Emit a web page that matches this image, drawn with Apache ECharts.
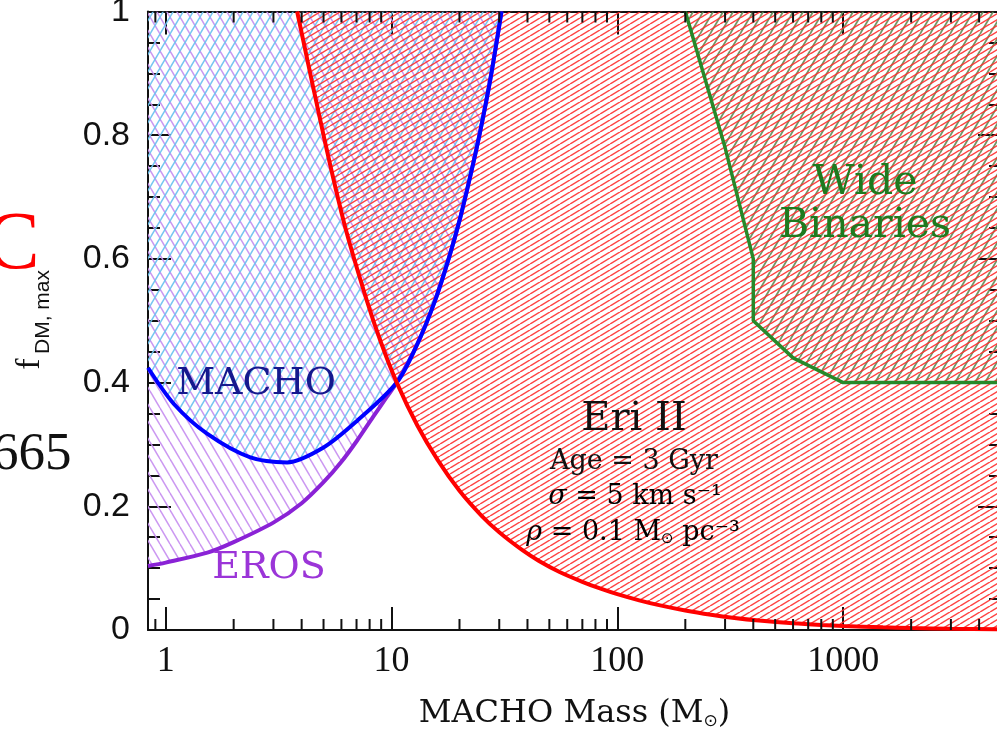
<!DOCTYPE html>
<html>
<head>
<meta charset="utf-8">
<script src="https://cdn.jsdelivr.net/npm/echarts@6/dist/echarts.min.js"></script>
<style>
  html, body { margin: 0; padding: 0; background: #ffffff; }
  #chart { width: 997px; height: 732px; }
</style>
</head>
<body>
<div id="chart"></div>
<script>
// Eri II upper limit on the MACHO dark-matter fraction
const eriMass = [3.82, 5, 6.2, 7.77, 9, 10.55, 13, 16, 20, 25, 30, 38, 45, 55.5, 70, 85, 100, 125, 153, 200, 260, 330, 424, 600, 800, 1000, 1500, 2000, 3000, 5000];
const eriFrac = [1.0, 0.80, 0.655, 0.533, 0.464, 0.40, 0.331, 0.275, 0.225, 0.185, 0.158, 0.129, 0.1115, 0.0937, 0.0779, 0.0665, 0.058, 0.048, 0.0402, 0.0315, 0.0246, 0.0195, 0.0153, 0.0108, 0.0081, 0.0065, 0.0043, 0.0031, 0.0019, 0.0010];

// MACHO survey limit
const machoMass = [0.835, 1.09, 1.53, 2.37, 3.45, 5.0, 7.03, 10.55, 13.0, 15.6, 18.0, 20.1, 22.3, 24.6, 27.5, 30.7];
const machoFrac = [0.424, 0.365, 0.317, 0.279, 0.271, 0.295, 0.338, 0.40, 0.462, 0.533, 0.603, 0.665, 0.733, 0.803, 0.894, 1.0];

// EROS survey limit (joins the MACHO curve above ~10 solar masses)
const erosMass = [0.835, 1.0, 1.53, 2.0, 3.01, 4.0, 5.0, 6.0, 7.03, 8.3, 9.5, 10.55, 13.0, 15.6, 18.0, 20.1, 22.3, 24.6, 27.5, 30.7];
const erosFrac = [0.1036, 0.109, 0.125, 0.142, 0.174, 0.205, 0.239, 0.272, 0.306, 0.345, 0.376, 0.40, 0.462, 0.533, 0.603, 0.665, 0.733, 0.803, 0.894, 1.0];

// Wide binaries limit
const wideMass = [200, 300, 400, 400, 600, 1000, 5000];
const wideFrac = [1.0, 0.78, 0.6, 0.5, 0.44, 0.4, 0.4];

// Axis ticks
const xTickValues = [1, 10, 100, 1000];
const xTickLabels = ['1', '10', '100', '1000'];
const xMinorValues = [0.9, 2, 3, 4, 5, 6, 7, 8, 9, 20, 30, 40, 50, 60, 70, 80, 90,
                      200, 300, 400, 500, 600, 700, 800, 900, 2000, 3000, 4000];

function pairs(xs, ys) { return xs.map((x, i) => [x, ys[i]]); }

// Diagonal hatch tile: dir > 0 draws '/', dir < 0 draws '\'
function hatch(w, h, color, lw, dir) {
  const c = document.createElement('canvas');
  c.width = w; c.height = h;
  const ctx = c.getContext('2d');
  ctx.strokeStyle = color;
  ctx.lineWidth = lw;
  for (let k = -1; k <= 1; k++) {
    ctx.beginPath();
    if (dir > 0) { ctx.moveTo(k * w, h); ctx.lineTo(k * w + w, 0); }
    else { ctx.moveTo(k * w, 0); ctx.lineTo(k * w + w, h); }
    ctx.stroke();
  }
  return c;
}

const redHatch = hatch(10, 6, 'rgba(255,45,45,0.9)', 1.5, 1);
const blueHatch = hatch(10, 17, 'rgba(110,195,240,0.95)', 1.5, 1);
const purpleHatch = hatch(10, 17, 'rgba(200,145,240,0.95)', 1.5, -1);
const greenHatch = hatch(10, 17, 'rgba(95,140,88,0.9)', 1.8, 1);

const chart = echarts.init(document.getElementById('chart'), null, { renderer: 'canvas' });

const axisColor = '#111111';
const tickStyle = { color: axisColor, width: 2 };

function xLabel(v) {
  for (let i = 0; i < xTickValues.length; i++) {
    if (Math.abs(v - xTickValues[i]) / xTickValues[i] < 1e-6) return xTickLabels[i];
  }
  return '';
}

function xAxisBase(pos) {
  return {
    type: 'log', logBase: 10, min: 0.835, max: 5000, position: pos,
    axisLine: { show: true, onZero: false, lineStyle: { color: axisColor, width: 2 } },
    axisTick: { show: true, inside: true, length: 23, lineStyle: tickStyle },
    splitLine: { show: false },
    minorTick: { show: false },
    minorSplitLine: { show: false }
  };
}

function yAxisBase(pos) {
  return {
    type: 'value', min: 0, max: 1, interval: 0.2, position: pos,
    axisLine: { show: true, onZero: false, lineStyle: { color: axisColor, width: 2 } },
    axisTick: { show: true, inside: true, length: 23, lineStyle: tickStyle },
    minorTick: { show: true, splitNumber: 4, length: 12, lineStyle: tickStyle },
    splitLine: { show: false }
  };
}

const xBottom = Object.assign(xAxisBase('bottom'), {
  axisLabel: {
    show: true, margin: 14, color: axisColor,
    fontFamily: 'Liberation Serif', fontSize: 36,
    formatter: xLabel, showMinLabel: false, showMaxLabel: false
  },
  name: '{a|MACHO Mass (M}{b|\u2299}{a|)}',
  nameLocation: 'middle',
  nameGap: 68,
  nameTextStyle: {
    color: axisColor,
    rich: {
      a: { fontFamily: 'DejaVu Serif', fontSize: 32, verticalAlign: 'bottom', color: axisColor },
      b: { fontFamily: 'DejaVu Sans', fontSize: 17, verticalAlign: 'bottom', color: axisColor }
    }
  }
});
const xTop = Object.assign(xAxisBase('top'), { axisLabel: { show: false } });

const yLeft = Object.assign(yAxisBase('left'), {
  axisLabel: { show: true, margin: 18, color: axisColor, fontFamily: 'Liberation Sans', fontSize: 34 }
});
const yRight = Object.assign(yAxisBase('right'), { axisLabel: { show: false } });

// hatched region lying above a limit curve (filled up to f = 1)
function fillSeries(name, xs, ys, pattern, smooth, z) {
  return {
    name: name + ' region', type: 'line', xAxisIndex: 0, yAxisIndex: 0,
    data: pairs(xs, ys), showSymbol: false, symbol: 'none', smooth: smooth,
    silent: true, z: z,
    lineStyle: { width: 0, opacity: 0 },
    areaStyle: { origin: 'end', color: { image: pattern, repeat: 'repeat' }, opacity: 1 }
  };
}
// the limit curve itself
function curveSeries(name, xs, ys, color, width, smooth, z) {
  return {
    name: name, type: 'line', xAxisIndex: 0, yAxisIndex: 0,
    data: pairs(xs, ys), showSymbol: false, symbol: 'none', smooth: smooth,
    silent: true, z: z,
    lineStyle: { color: color, width: width }
  };
}

const textFont = 'DejaVu Serif';

chart.setOption({
  animation: false,
  backgroundColor: '#ffffff',
  grid: { left: 148, right: -4, top: 11.5, bottom: 102, containLabel: false, outerBoundsMode: 'none' },
  xAxis: [xBottom, xTop],
  yAxis: [yLeft, yRight],
  series: [
    fillSeries('EROS', erosMass, erosFrac, purpleHatch, 0.3, 1),
    fillSeries('MACHO', machoMass, machoFrac, blueHatch, 0.3, 1),
    fillSeries('Wide Binaries', wideMass, wideFrac, greenHatch, false, 1),
    fillSeries('Eri II', eriMass, eriFrac, redHatch, 0.3, 1),
    curveSeries('EROS', erosMass, erosFrac, '#8a22d6', 4, 0.3, 3),
    curveSeries('MACHO', machoMass, machoFrac, '#0000ff', 4, 0.3, 4),
    curveSeries('Wide Binaries', wideMass, wideFrac, '#27892a', 3.5, false, 4),
    curveSeries('Eri II', eriMass, eriFrac, '#ff0000', 4, 0.3, 5),
    {
      // minor log ticks on the bottom and top frame edges
      type: 'custom', xAxisIndex: 0, yAxisIndex: 0, silent: true, z: 10, clip: false,
      data: xMinorValues.map(v => [v, 0]),
      encode: { x: 0, y: 1 },
      renderItem: function (params, api) {
        const b = api.coord([api.value(0), 0]);
        const t = api.coord([api.value(0), 1]);
        return {
          type: 'group',
          children: [
            { type: 'line', shape: { x1: b[0], y1: b[1], x2: b[0], y2: b[1] - 11 }, style: { stroke: axisColor, lineWidth: 2 } },
            { type: 'line', shape: { x1: t[0], y1: t[1], x2: t[0], y2: t[1] + 11 }, style: { stroke: axisColor, lineWidth: 2 } }
          ]
        };
      }
    }
  ],
  graphic: [
    // y-axis title, reading bottom to top
    { type: 'text', x: 30, y: 364, rotation: Math.PI / 2, z: 20,
      style: { text: 'f', font: '34px "Liberation Serif"', fill: axisColor, align: 'center', verticalAlign: 'middle' } },
    { type: 'text', x: 43, y: 312, rotation: Math.PI / 2, z: 20,
      style: { text: 'DM, max', font: '21px "Liberation Sans"', fill: axisColor, align: 'center', verticalAlign: 'middle' } },
    // survey labels
    { type: 'text', x: 256, y: 384, z: 20,
      style: { text: 'MACHO', font: '38px "' + textFont + '"', fill: '#15198e', align: 'center', verticalAlign: 'middle' } },
    { type: 'text', x: 269, y: 568, z: 20,
      style: { text: 'EROS', font: '38px "' + textFont + '"', fill: '#9b35d8', align: 'center', verticalAlign: 'middle' } },
    { type: 'text', x: 865, y: 183, z: 20,
      style: { text: 'Wide', font: '41px "' + textFont + '"', fill: '#1f7a1f', align: 'center', verticalAlign: 'middle' } },
    { type: 'text', x: 865, y: 226, z: 20,
      style: { text: 'Binaries', font: '41px "' + textFont + '"', fill: '#1f7a1f', align: 'center', verticalAlign: 'middle' } },
    // Eri II annotation block
    { type: 'text', x: 634, y: 420, z: 20,
      style: { text: 'Eri II', font: '40px "' + textFont + '"', fill: axisColor, align: 'center', verticalAlign: 'middle' } },
    { type: 'text', x: 634, y: 462, z: 20,
      style: { text: 'Age = 3 Gyr', font: '27px "' + textFont + '"', fill: axisColor, align: 'center', verticalAlign: 'middle' } },
    { type: 'text', x: 635, y: 497, z: 20,
      style: {
        text: '{i|\u03c3}{t| = 5 km s\u207b\u00b9}', align: 'center', verticalAlign: 'middle',
        rich: {
          i: { fontFamily: textFont, fontStyle: 'italic', fontSize: 27, color: axisColor },
          t: { fontFamily: textFont, fontSize: 27, color: axisColor }
        }
      } },
    { type: 'text', x: 633, y: 533, z: 20,
      style: {
        text: '{i|\u03c1}{t| = 0.1 M}{s|\u2299}{t| pc\u207b\u00b3}', align: 'center', verticalAlign: 'middle',
        rich: {
          i: { fontFamily: textFont, fontStyle: 'italic', fontSize: 27, verticalAlign: 'bottom', color: axisColor },
          t: { fontFamily: textFont, fontSize: 27, verticalAlign: 'bottom', color: axisColor },
          s: { fontFamily: 'DejaVu Sans', fontSize: 15, verticalAlign: 'bottom', color: axisColor }
        }
      } },
    // neighbouring page text at the left margin
    { type: 'text', x: -15, y: 246, z: 20,
      style: { text: 'C', font: '82px "Liberation Serif"', fill: '#ff0000', align: 'left', verticalAlign: 'middle' } },
    { type: 'text', x: -8, y: 455, z: 20,
      style: { text: '665', font: '53px "Liberation Serif"', fill: '#111111', align: 'left', verticalAlign: 'middle' } }
  ]
});
</script>
</body>
</html>
